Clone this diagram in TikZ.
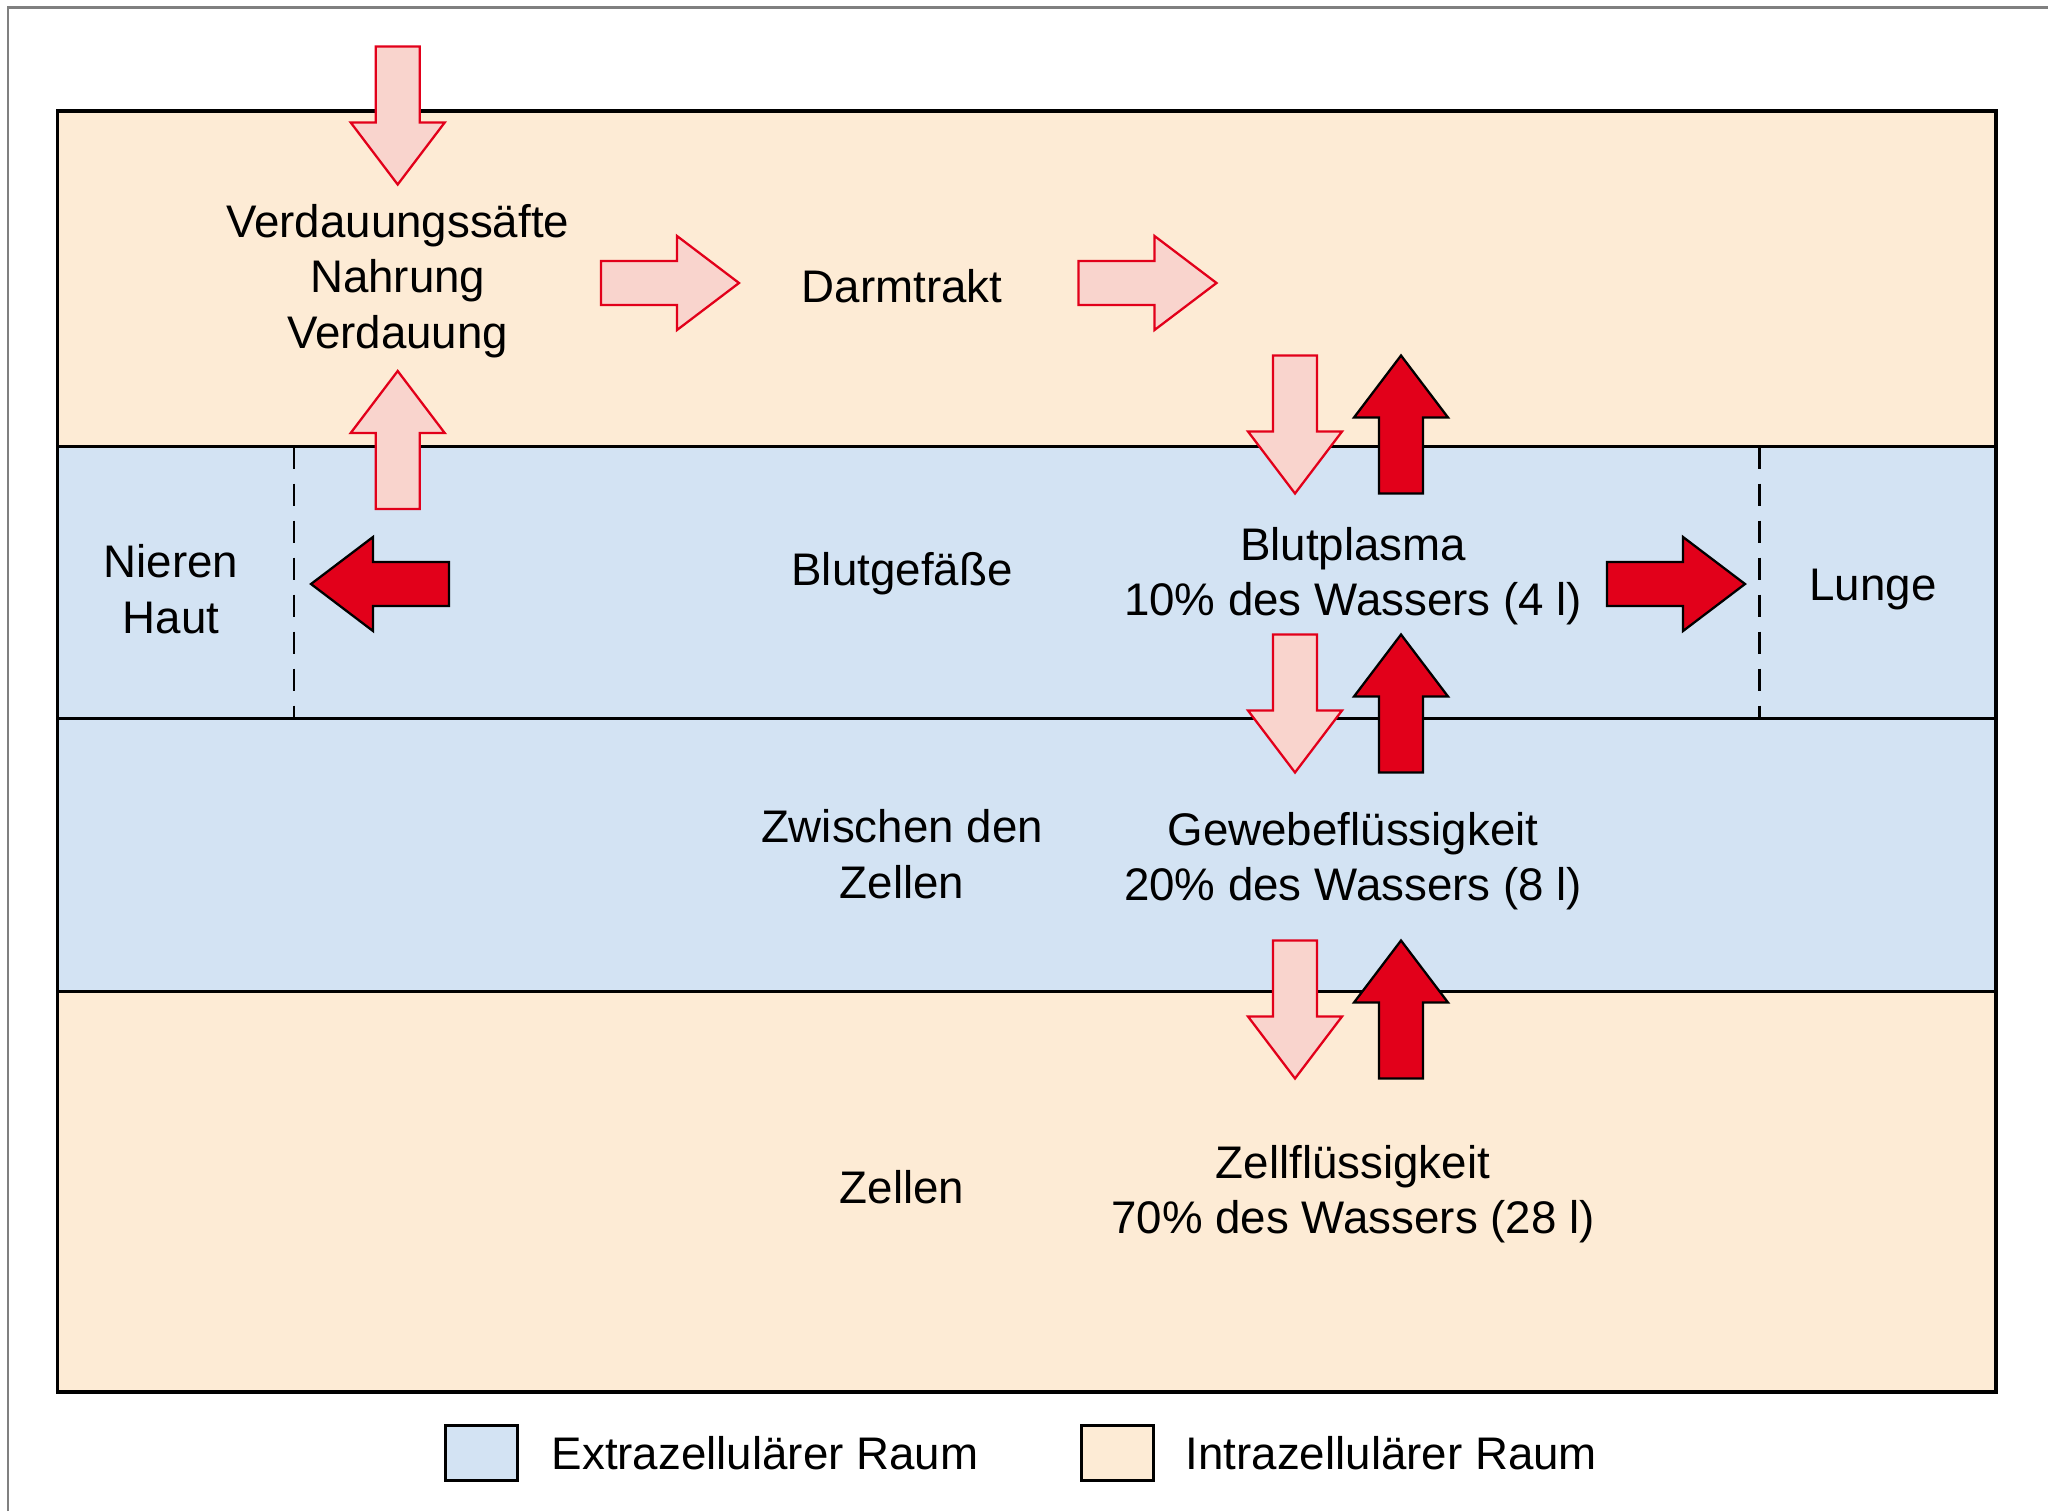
\documentclass[tikz,border=0pt]{standalone}
\usepackage{fontspec}
\setmainfont{Liberation Sans}

\definecolor{intra}{HTML}{FDEBD5}
\definecolor{extra}{HTML}{D3E3F3}
\definecolor{rosa}{HTML}{F9D4CD}
\definecolor{signal}{HTML}{E2001A}

\tikzset{
  inflow/.style={fill=rosa, draw=signal, line width=0.65pt},
  outflow/.style={fill=signal, draw=black, line width=0.65pt},
  txt/.style={align=center, inner sep=0pt, font=\fontsize{13}{15.8}\selectfont},
  band/.style={line width=0.85pt},
  border/.style={band, dash pattern=on 2.2mm off 1.5mm},
}

% block arrow: style, x, y, angle
\newcommand{\flowarrow}[4]{%
  \draw[#1, shift={(#2,#3)}, rotate=#4]
    (-69,-22) -- (7,-22) -- (7,-47) -- (69,0) -- (7,47) -- (7,22) -- (-69,22) -- cycle;}

\begin{document}
\begin{tikzpicture}[x=0.1mm, y=-0.1mm]
  \useasboundingbox (0,0) rectangle (2048,1511);
  \draw[line width=0.7pt, gray] (8,1511) -- (8,7.5) -- (2048,7.5);

  \coordinate (NW) at (57.5,111);
  \coordinate (SE) at (1996,1392);
  \coordinate (A) at (57.5,446.7);
  \coordinate (B) at (57.5,718.4);
  \coordinate (C) at (57.5,991.3);

  \fill[intra] (NW) rectangle (1996,446.7);
  \fill[extra] (A) rectangle (1996,991.3);
  \fill[intra] (C) rectangle (SE);
  \draw[band] (A) -- (1996,446.7);
  \draw[band] (B) -- (1996,718.4);
  \draw[band] (C) -- (1996,991.3);
  \draw[border] (294,446.7) -- (294,718.4);
  \draw[border] (1759,446.7) -- (1759,718.4);
  \draw[line width=1.1pt] (NW) rectangle (SE);

  % inflows
  \flowarrow{inflow}{397.7}{115.5}{-90}
  \flowarrow{inflow}{397.7}{440}{90}
  \flowarrow{inflow}{670}{283}{0}
  \flowarrow{inflow}{1147.5}{283}{0}
  \flowarrow{inflow}{1295}{424.5}{-90}
  \flowarrow{inflow}{1295}{703.5}{-90}
  \flowarrow{inflow}{1295}{1009.5}{-90}
  % outflows
  \flowarrow{outflow}{1401}{424.5}{90}
  \flowarrow{outflow}{1401}{703.5}{90}
  \flowarrow{outflow}{1401}{1009.5}{90}
  \flowarrow{outflow}{380}{584}{180}
  \flowarrow{outflow}{1676}{584}{0}

  \node[txt] (saefte) at (397.7,281) {Verdauungssäfte\\Nahrung\\Verdauung};
  \node[txt] (darm) at (902,286) {Darmtrakt};
  \node[txt] (niere) at (171,589) {Nieren\\Haut};
  \node[txt] (gefaess) at (902,574) {Blutgefäße};
  \node[txt] (plasma) at (1353,576) {Blutplasma\\10\% des Wassers (4 l)};
  \node[txt] (lunge) at (1873,590) {Lunge};
  \node[txt] (zwischen) at (902,854) {Zwischen den\\Zellen};
  \node[txt] (gewebe) at (1353,861) {Gewebeflüssigkeit\\20\% des Wassers (8 l)};
  \node[txt] (zellen) at (902,1187) {Zellen};
  \node[txt] (zellfl) at (1353,1194) {Zellflüssigkeit\\70\% des Wassers (28 l)};

  % legend
  \draw[band, fill=extra] (445,1425) rectangle (517,1480);
  \node[txt, anchor=west] (extraraum) at (551,1453) {Extrazellulärer Raum};
  \draw[band, fill=intra] (1081,1425) rectangle (1153,1480);
  \node[txt, anchor=west] (intraraum) at (1185,1453) {Intrazellulärer Raum};
\end{tikzpicture}
\end{document}
